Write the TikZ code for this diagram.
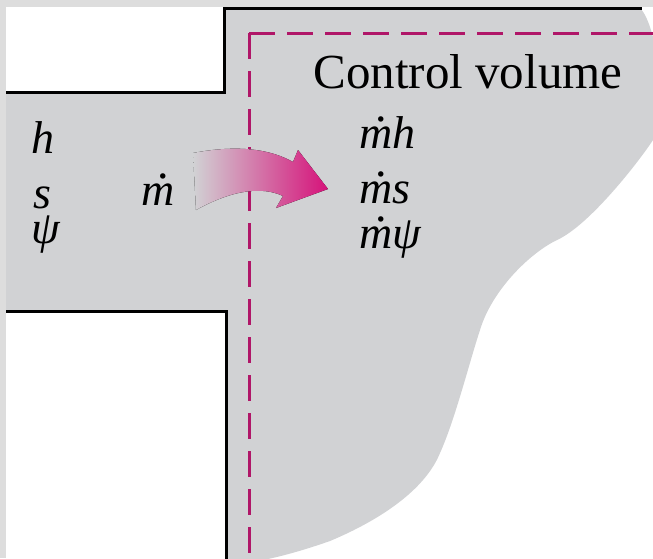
\documentclass[tikz,border=0pt]{standalone}
\usepackage{fontspec}
\setmainfont{Liberation Serif}
\definecolor{cvgray}{RGB}{209,210,212}
\definecolor{framegray}{RGB}{221,221,221}
\definecolor{cvpink}{RGB}{176,22,104}
\definecolor{flowpink}{RGB}{214,18,122}
% m with a dot, set a little high as in the figure
\newcommand{\mdot}{\makebox[0pt][l]{\hspace{0.36em}\raisebox{0.58em}{\upshape .}}m}

\begin{document}
\begin{tikzpicture}[x=0.5pt,y=-0.5pt,
    wall/.style ={draw=black, line width=1.5pt},
    cvline/.style ={draw=cvpink, line width=1.5pt, dash pattern=on 13pt off 6pt},
    cvlabel/.style ={anchor=base west, inner sep=0pt, font=\fontsize{24.5}{30}\selectfont},
    prop/.style ={anchor=base west, inner sep=0pt, font=\fontsize{23}{27}\selectfont\itshape},
    flow/.style ={left color=cvgray, middle color=flowpink!40!cvgray, right color=flowpink, draw=none}]
    \useasboundingbox (0,0) rectangle (653,558);
    \clip (0,0) rectangle (653,558);
    % frame round the picture
    \fill[framegray] (0,0) rectangle (653,558);
    \fill[white] (6,7) rectangle (653,558);
    % duct and the region it opens into
    \fill[cvgray] (6,92) -- (224,92) -- (224,8) -- (640,8)
      .. controls (656,24) and (668,100) .. (653,140)
      .. controls (640,160) and (590,225) .. (557,240)
      .. controls (530,253) and (492,290) .. (480,330)
      .. controls (470,360) and (455,420) .. (440,453)
      .. controls (425,490) and (380,520) .. (330,541)
      .. controls (290,555) and (260,562) .. (226,566)
      -- (226,311) -- (6,311) -- cycle;
    \draw[wall] (6,92) -- (224,92) -- (224,8) -- (642,8);
    \draw[wall] (6,311) -- (226,311) -- (226,560);
    % control surface
    \draw[cvline] (249,33) -- (249,560);
    \draw[cvline] (249,33) -- (660,33);
    % mass flow crossing the boundary
    \fill[flow] (193,153) .. controls (240,144) and (272,150) .. (293,162)
      -- (298,150) -- (328,189) -- (276,208) -- (283,196)
      .. controls (262,186) and (232,190) .. (196,210) -- cycle;
    % labels
    \node[cvlabel] (cvname) at (313,88) {Control volume};
    \node[prop] (hin) at (31,153) {h};
    \node[prop] (sin) at (33,208) {s};
    \node[prop] (psiin) at (31,243) {ψ};
    \node[prop] (mflow) at (141,205) {\mdot};
    \node[prop] (mh) at (359,148) {\mdot h};
    \node[prop] (ms) at (359,203) {\mdot s};
    \node[prop] (mpsi) at (359,248) {\mdot ψ};
\end{tikzpicture}
\end{document}
